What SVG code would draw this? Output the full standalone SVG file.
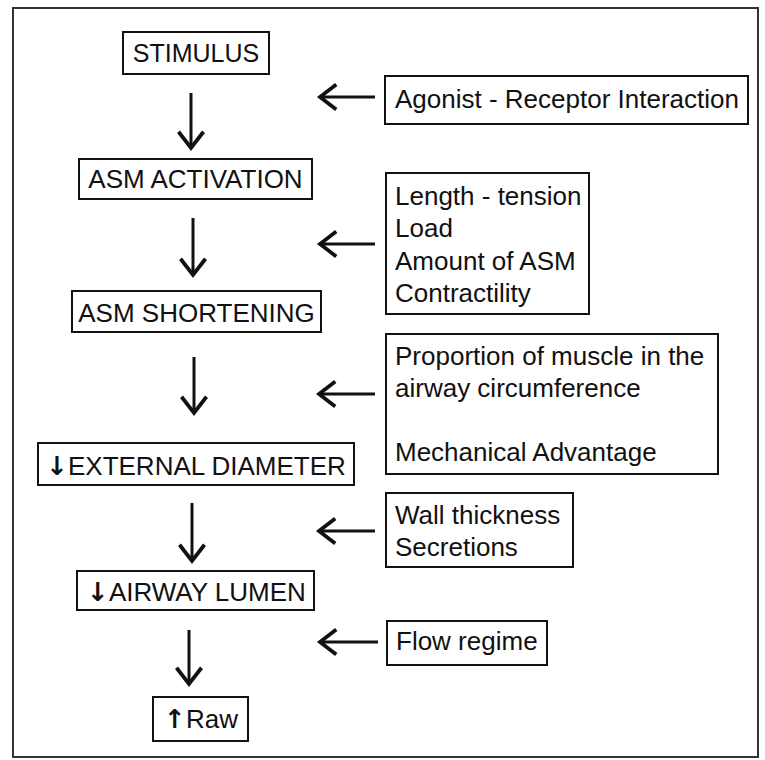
<svg xmlns="http://www.w3.org/2000/svg" width="765" height="760" viewBox="0 0 765 760">
<style>
.box{fill:#fff;stroke:#111;stroke-width:2}
.t{font-family:"Liberation Sans",Arial,sans-serif;font-size:26px;fill:#111}
.c{text-anchor:middle}
.sym{font-family:"DejaVu Sans",sans-serif;font-size:26px;font-weight:bold}
.ar{stroke:#111;stroke-width:3;fill:none}
</style>
<defs>
<marker id="ah" markerUnits="userSpaceOnUse" markerWidth="30" markerHeight="30" viewBox="-16 -12 20 24" refX="0" refY="0" orient="auto" overflow="visible">
<path d="M-13,-10 L0,0 L-13,10" fill="none" stroke="#111" stroke-width="3" stroke-linejoin="miter"/>
</marker>
</defs>
<rect x="0" y="0" width="765" height="760" fill="#fff"/>
<rect id="frame" x="13" y="8" width="745" height="749" fill="none" stroke="#333" stroke-width="2"/>
<g id="connectors">
<line class="ar" x1="191" y1="93" x2="191" y2="148" marker-end="url(#ah)"/>
<line class="ar" x1="193" y1="218" x2="193" y2="275" marker-end="url(#ah)"/>
<line class="ar" x1="194" y1="357" x2="194" y2="413" marker-end="url(#ah)"/>
<line class="ar" x1="192" y1="503" x2="192" y2="561" marker-end="url(#ah)"/>
<line class="ar" x1="189" y1="630" x2="189" y2="684" marker-end="url(#ah)"/>
<line class="ar" x1="375" y1="97" x2="320" y2="97" marker-end="url(#ah)"/>
<line class="ar" x1="375" y1="244" x2="320" y2="244" marker-end="url(#ah)"/>
<line class="ar" x1="375" y1="394" x2="319" y2="394" marker-end="url(#ah)"/>
<line class="ar" x1="375" y1="531" x2="319" y2="531" marker-end="url(#ah)"/>
<line class="ar" x1="378" y1="642" x2="320" y2="642" marker-end="url(#ah)"/>
</g>
<g id="stimulus"><rect class="box" x="123" y="32" width="146" height="42"/><text class="t c" x="196" y="62" style="font-size:25px">STIMULUS</text></g>
<g id="asm-activation"><rect class="box" x="79" y="159" width="233" height="40"/><text class="t c" x="195.5" y="188">ASM ACTIVATION</text></g>
<g id="asm-shortening"><rect class="box" x="72" y="291" width="249" height="41"/><text class="t c" x="196.5" y="322">ASM SHORTENING</text></g>
<g id="external-diameter"><rect class="box" x="38" y="443" width="316" height="42"/><text class="t c" x="196" y="475"><tspan class="sym">↓</tspan>EXTERNAL DIAMETER</text></g>
<g id="airway-lumen"><rect class="box" x="77" y="571" width="237" height="39"/><text class="t c" x="196.5" y="601"><tspan class="sym">↓</tspan>AIRWAY LUMEN</text></g>
<g id="raw"><rect class="box" x="153" y="697" width="95" height="44"/><text class="t c" x="201" y="728"><tspan class="sym">↑</tspan>Raw</text></g>
<g id="agonist"><rect class="box" x="385" y="76" width="363" height="48"/><text class="t" x="395" y="108">Agonist - Receptor Interaction</text></g>
<g id="length-tension"><rect class="box" x="386" y="173" width="203" height="141"/>
<text class="t" x="395" y="205">Length - tension</text>
<text class="t" x="395" y="237">Load</text>
<text class="t" x="395" y="270">Amount of ASM</text>
<text class="t" x="395" y="302">Contractility</text></g>
<g id="proportion"><rect class="box" x="386" y="334" width="332" height="140"/>
<text class="t" x="395" y="365">Proportion of muscle in the</text>
<text class="t" x="395" y="397">airway circumference</text>
<text class="t" x="395" y="461">Mechanical Advantage</text></g>
<g id="wall"><rect class="box" x="386" y="493" width="187" height="74"/>
<text class="t" x="395" y="524">Wall thickness</text>
<text class="t" x="395" y="556">Secretions</text></g>
<g id="flow"><rect class="box" x="387" y="621" width="160" height="44"/><text class="t" x="396" y="650">Flow regime</text></g>
</svg>
